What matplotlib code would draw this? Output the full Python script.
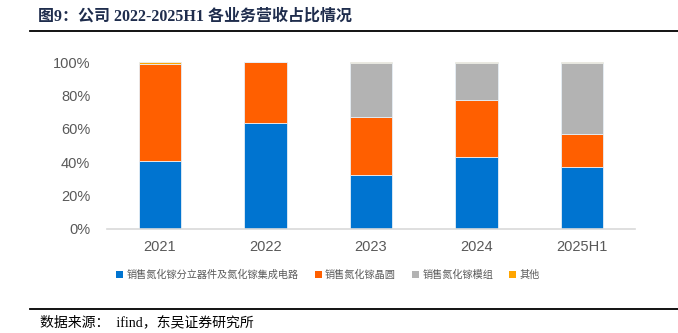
import matplotlib
matplotlib.use("Agg")
import matplotlib.pyplot as plt
from matplotlib.lines import Line2D
from matplotlib.patches import Patch
import numpy as np

plt.rcParams['font.family'] = ['Liberation Sans', 'Noto Sans CJK SC', 'DejaVu Sans']

categories = ['2021', '2022', '2023', '2024', '2025H1']
series_names = ['销售氮化镓分立器件及氮化镓集成电路', '销售氮化镓晶圆', '销售氮化镓模组', '其他']
discrete_ic = [40.7, 63.3, 32.3, 43.3, 37.3]
wafer = [58.1, 36.7, 34.9, 33.9, 19.6]
module = [0.0, 0.0, 32.5, 22.3, 42.6]
other = [1.2, 0.0, 0.3, 0.5, 0.5]
yticks = [0, 20, 40, 60, 80, 100]

colors = ['#0074D0', '#FF5F00', '#B3B3B3', '#FFA500']

fig = plt.figure(figsize=(6.78, 3.33), dpi=100)
ax = fig.add_axes([107 / 678, 1 - 229 / 333, 528 / 678, 167 / 333])

x = np.arange(len(categories))
bottom = np.zeros(len(categories))
for vals, col in zip([discrete_ic, wafer, module, other], colors):
    ax.bar(x, vals, width=0.4, bottom=bottom, color=col,
           edgecolor='#E6EEF5', linewidth=0.6, zorder=2)
    bottom += np.array(vals)

ax.set_xlim(-0.5, len(categories) - 0.5)
ax.set_ylim(0, 100)
ax.set_yticks(yticks)
ax.set_yticklabels([f'{v}%' for v in yticks])
ax.set_xticks(x)
ax.set_xticklabels(categories)
ax.tick_params(axis='both', length=0, labelsize=10.5, colors='#595959')
ax.tick_params(axis='x', pad=8)
ax.tick_params(axis='y', pad=12)
for s in ['top', 'right', 'left']:
    ax.spines[s].set_visible(False)
ax.spines['bottom'].set_color('#D9D9D9')
ax.spines['bottom'].set_linewidth(1.2)

handles = [Patch(facecolor=c, edgecolor='none') for c in colors]
leg = fig.legend(handles, series_names, loc='center', bbox_to_anchor=(328 / 678, 1 - 275 / 333),
                 ncol=4, frameon=False, fontsize=7.3, handlelength=0.7, handleheight=0.7,
                 handletextpad=0.3, columnspacing=1.6)
for t in leg.get_texts():
    t.set_color('#595959')
    t.set_family(['Noto Sans CJK SC'])

# title and rules
fig.text(38 / 678, 1 - 17 / 333, '图9：公司 2022-2025H1 各业务营收占比情况',
         family=['Liberation Serif', 'Noto Sans CJK SC'], fontweight='bold',
         fontsize=11.5, color='#1F2D4D', va='center', ha='left')
fig.add_artist(Line2D([30 / 678, 1.0], [1 - 31 / 333] * 2, color='black', linewidth=1.3))
fig.add_artist(Line2D([30 / 678, 1.0], [1 - 309 / 333] * 2, color='black', linewidth=1.3))
fig.text(40 / 678, 1 - 322 / 333, '数据来源：  ifind，东吴证券研究所',
         family=['Liberation Serif', 'Noto Sans CJK SC'], fontsize=10, color='black',
         va='center', ha='left')

fig.savefig('out.png', dpi=100)
